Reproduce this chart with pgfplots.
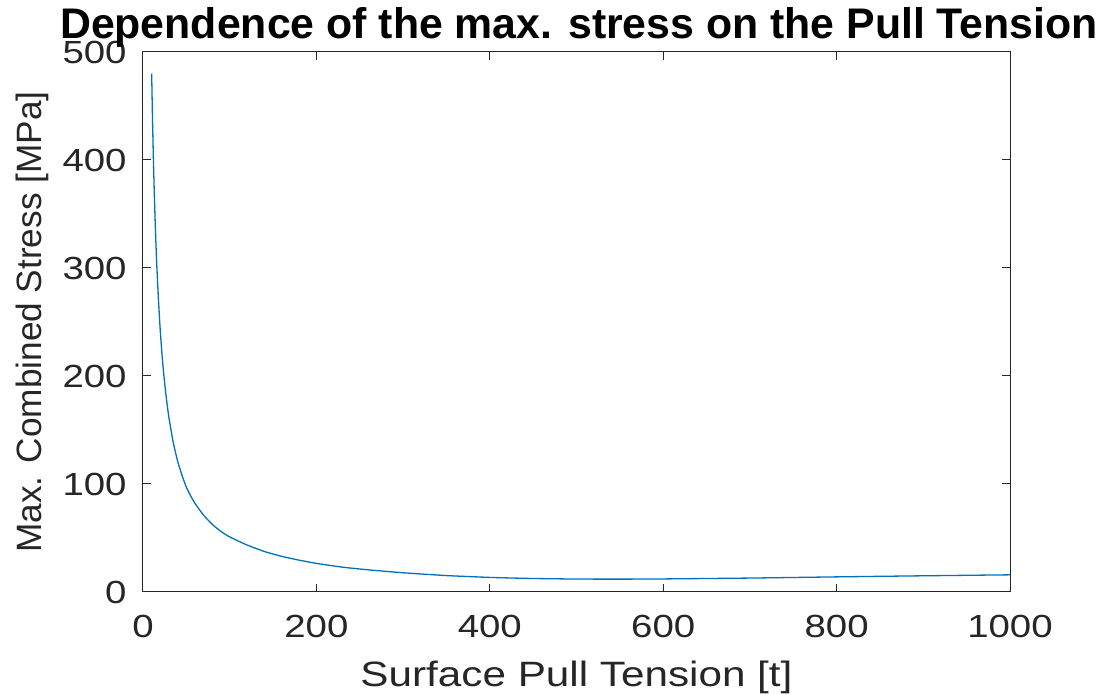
\documentclass[border=0pt]{standalone}
\usepackage{pgfplots}
\pgfplotsset{compat=1.18}
\usepackage{fontspec}
\setmainfont{Liberation Sans}
\newfontfamily\wide[FakeStretch=1.2]{Liberation Sans}
\definecolor{axgray}{rgb}{0.15,0.15,0.15}
\definecolor{lineblue}{rgb}{0,0.447,0.741}

\begin{document}
\begin{tikzpicture}
\begin{axis}[
  name=ax,
  scale only axis,
  width=433.5pt, height=270pt,
  xmin=0, xmax=1000, ymin=0, ymax=500,
  xtick={0,200,...,1000}, ytick={0,100,...,500},
  tick align=inside,
  major tick length=4pt,
  axis line style={color=axgray, line width=0.5pt},
  every tick/.style={color=axgray, line width=0.5pt},
  /pgf/number format/assume math mode=true,
  /pgf/number format/1000 sep={},
  tick label style={font=\wide\fontsize{16}{19}\selectfont, text=axgray},
  xticklabel style={anchor=base, inner sep=0pt, yshift=-23pt},
  yticklabel style={anchor=east, inner sep=0pt, xshift=-8pt},
]
\addplot[color=lineblue, line width=0.65pt, mark=none, smooth, tension=0.3] coordinates {
  (10,480) (11,437) (12,401) (13,370) (14,344) (15,321) (16,301) (18,268)
  (20,241) (22,219) (24,201) (27,179) (30,161) (35,138) (40,121) (45,108)
  (50,97) (55,89) (60,82) (70,71) (80,62.5) (90,56) (100,51) (120,43.5)
  (140,37.5) (160,33) (180,29.5) (200,26.5) (230,23) (260,20.5) (300,17.8)
  (350,15.2) (400,13.5) (450,12.5) (500,12.0) (550,11.9) (600,12.1)
  (700,12.9) (800,14.0) (900,15.0) (1000,15.9)
};
\end{axis}
% title and axis labels
\node[anchor=base, inner sep=0pt, font=\bfseries\fontsize{21.4}{25}\selectfont, text=black]
  at ([xshift=1.25pt,yshift=6.5pt]ax.north) {Dependence of the max. stress on the Pull Tension};
\node[anchor=base, font=\wide\fontsize{17.6}{21}\selectfont, text=axgray]
  at ([yshift=-47.5pt]ax.south) {Surface Pull Tension [t]};
\node[anchor=base, rotate=90, font=\fontsize{17.6}{21}\selectfont, text=axgray]
  at ([xshift=-50.5pt]ax.west) {Max. Combined Stress [MPa]};
\pgfresetboundingbox
\path[use as bounding box] ([xshift=-71.5pt,yshift=-51.5pt]ax.south west)
  rectangle ([xshift=47pt,yshift=26pt]ax.north east);
\end{tikzpicture}
\end{document}
